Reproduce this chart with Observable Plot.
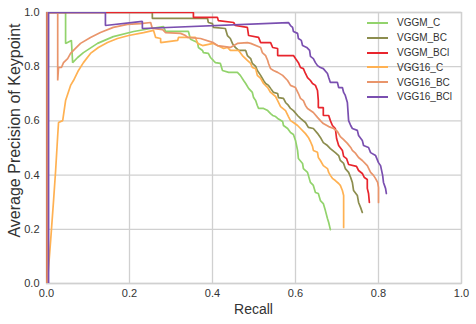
<!DOCTYPE html>
<html>
<head>
<meta charset="utf-8">
<script src="https://cdn.jsdelivr.net/npm/d3@7"></script>
<script src="https://cdn.jsdelivr.net/npm/@observablehq/plot@0.6"></script>
<style>
  html, body { margin: 0; padding: 0; background: #fff; }
  #wrap { position: relative; width: 476px; height: 324px; font-family: "Liberation Sans", Arial, sans-serif; color: #333; }
  #wrap svg { position: absolute; left: 0; top: 0; }
  .xlabel { position: absolute; left: 46px; width: 415px; top: 301px; text-align: center; font-size: 14px; line-height: 16px; }
  .ylabel { position: absolute; width: 300px; height: 17px; left: -136px; top: 121.5px; text-align: center; font-size: 16px; line-height: 17px; transform: rotate(-90deg); transform-origin: 150px 8.5px; white-space: nowrap; }
  .legend { position: absolute; left: 367px; top: 15.6px; font-size: 10px; }
  .legend .row { display: flex; align-items: center; height: 14.8px; }
  .legend .sw { width: 21px; height: 2px; margin-right: 9px; }
</style>
</head>
<body>
<div id="wrap"></div>
<script>
// ---- data ----
const seriesNames = ["VGGM_C", "VGGM_BC", "VGGM_BCl", "VGG16_C", "VGG16_BC", "VGG16_BCl"];
const seriesColors = ["#92d36c", "#8c8d4e", "#e8252d", "#ffb152", "#e9956b", "#7a4fb0"];
const xTicks = [0, 0.2, 0.4, 0.6, 0.8, 1.0];
const yTicks = [0, 0.2, 0.4, 0.6, 0.8, 1.0];

const vggmC_recall = [0.002,0.002,0.046,0.046,0.060,0.063,0.075,0.089,0.123,0.161,0.210,0.251,0.282,0.287,0.342,0.347,0.364,0.366,0.376,0.378,0.390,0.395,0.402,0.407,0.419,0.424,0.439,0.460,0.467,0.475,0.480,0.487,0.496,0.499,0.504,0.508,0.511,0.523,0.533,0.540,0.545,0.552,0.557,0.569,0.571,0.581,0.588,0.595,0.600,0.605,0.607,0.617,0.619,0.629,0.631,0.636,0.643,0.648,0.655,0.660,0.667,0.672,0.677,0.680,0.684];
const vggmC_precision = [0,1,1,0.886,0.897,0.815,0.834,0.852,0.886,0.911,0.930,0.941,0.948,0.930,0.930,0.901,0.889,0.871,0.860,0.852,0.849,0.834,0.823,0.815,0.812,0.786,0.779,0.779,0.768,0.749,0.738,0.720,0.705,0.686,0.675,0.657,0.646,0.646,0.638,0.627,0.620,0.616,0.609,0.598,0.583,0.572,0.557,0.550,0.528,0.491,0.461,0.443,0.424,0.410,0.399,0.373,0.362,0.336,0.332,0.306,0.295,0.269,0.240,0.225,0.199];

const vggmBC_recall = [0.002,0.002,0.255,0.255,0.388,0.390,0.400,0.402,0.431,0.436,0.443,0.448,0.455,0.463,0.480,0.484,0.492,0.496,0.504,0.508,0.516,0.523,0.528,0.535,0.540,0.547,0.557,0.559,0.571,0.576,0.583,0.588,0.595,0.605,0.612,0.624,0.631,0.643,0.653,0.660,0.667,0.677,0.684,0.696,0.704,0.708,0.716,0.720,0.728,0.733,0.737,0.740,0.749,0.752,0.757,0.761];
const vggmBC_precision = [0,1,1,0.978,0.978,0.963,0.959,0.945,0.941,0.915,0.904,0.886,0.871,0.860,0.860,0.841,0.830,0.812,0.801,0.786,0.768,0.749,0.738,0.731,0.720,0.705,0.701,0.686,0.683,0.668,0.657,0.646,0.638,0.620,0.609,0.594,0.576,0.572,0.554,0.539,0.520,0.509,0.498,0.483,0.472,0.454,0.443,0.424,0.410,0.391,0.373,0.343,0.325,0.299,0.280,0.262];

const vggmBCl_recall = [0.002,0.002,0.354,0.354,0.412,0.414,0.451,0.455,0.484,0.487,0.511,0.516,0.540,0.545,0.557,0.557,0.595,0.600,0.607,0.612,0.619,0.624,0.629,0.636,0.641,0.648,0.653,0.655,0.655,0.667,0.667,0.680,0.684,0.689,0.696,0.699,0.704,0.713,0.716,0.723,0.728,0.747,0.752,0.761,0.766,0.773,0.773,0.776,0.778];
const vggmBCl_precision = [0,1,1,0.982,0.982,0.970,0.963,0.952,0.945,0.915,0.908,0.889,0.889,0.871,0.867,0.841,0.841,0.830,0.815,0.797,0.793,0.775,0.760,0.749,0.738,0.731,0.712,0.675,0.649,0.649,0.620,0.620,0.601,0.583,0.572,0.535,0.509,0.491,0.469,0.461,0.439,0.432,0.417,0.406,0.391,0.384,0.351,0.332,0.299];

const vgg16C_recall = [0.002,0.010,0.017,0.022,0.027,0.029,0.039,0.046,0.058,0.065,0.077,0.089,0.106,0.125,0.147,0.171,0.198,0.234,0.258,0.263,0.275,0.275,0.316,0.318,0.359,0.364,0.376,0.402,0.427,0.436,0.443,0.463,0.472,0.484,0.492,0.496,0.504,0.508,0.516,0.523,0.533,0.540,0.552,0.557,0.564,0.576,0.583,0.588,0.595,0.605,0.612,0.624,0.631,0.636,0.641,0.643,0.653,0.655,0.660,0.667,0.677,0.680,0.684,0.689,0.696,0.704,0.708,0.713,0.716,0.716];
const vgg16C_precision = [0,0.159,0.306,0.417,0.546,0.594,0.601,0.675,0.731,0.749,0.786,0.815,0.849,0.871,0.889,0.904,0.915,0.926,0.934,0.908,0.904,0.889,0.897,0.908,0.908,0.886,0.878,0.886,0.867,0.871,0.860,0.860,0.841,0.823,0.812,0.797,0.793,0.768,0.757,0.738,0.723,0.705,0.690,0.675,0.653,0.638,0.616,0.601,0.594,0.583,0.572,0.553,0.539,0.524,0.506,0.491,0.484,0.465,0.454,0.435,0.424,0.410,0.399,0.388,0.380,0.369,0.362,0.343,0.325,0.207];

const vgg16BC_recall = [0.002,0.002,0.027,0.027,0.029,0.036,0.041,0.051,0.058,0.065,0.082,0.106,0.130,0.161,0.195,0.227,0.251,0.255,0.280,0.287,0.323,0.335,0.340,0.371,0.402,0.412,0.443,0.460,0.484,0.492,0.516,0.520,0.528,0.533,0.535,0.540,0.547,0.557,0.569,0.581,0.588,0.600,0.607,0.612,0.619,0.624,0.629,0.643,0.653,0.660,0.667,0.680,0.692,0.701,0.708,0.716,0.725,0.733,0.737,0.745,0.752,0.761,0.773,0.781,0.788,0.793,0.798,0.800,0.800];
const vgg16BC_precision = [0,1,1,0.749,0.797,0.797,0.815,0.830,0.849,0.860,0.886,0.908,0.926,0.945,0.956,0.959,0.963,0.941,0.937,0.926,0.923,0.915,0.908,0.904,0.889,0.878,0.871,0.886,0.889,0.886,0.871,0.852,0.841,0.823,0.812,0.793,0.786,0.779,0.768,0.749,0.731,0.723,0.701,0.683,0.675,0.657,0.646,0.631,0.613,0.601,0.590,0.579,0.572,0.561,0.542,0.531,0.517,0.502,0.491,0.480,0.465,0.454,0.435,0.410,0.399,0.387,0.373,0.354,0.299];

const vgg16BCl_recall = [0.005,0.005,0.142,0.142,0.231,0.231,0.583,0.588,0.593,0.595,0.605,0.607,0.614,0.617,0.627,0.634,0.636,0.643,0.648,0.653,0.660,0.667,0.677,0.680,0.684,0.701,0.704,0.713,0.716,0.720,0.725,0.728,0.733,0.737,0.749,0.752,0.761,0.764,0.776,0.781,0.793,0.800,0.805,0.810,0.812,0.817,0.819];
const vgg16BCl_precision = [0,1,1,0.952,0.967,0.941,0.963,0.952,0.945,0.930,0.923,0.904,0.897,0.878,0.871,0.860,0.838,0.830,0.815,0.804,0.797,0.793,0.775,0.760,0.742,0.742,0.723,0.723,0.705,0.694,0.668,0.601,0.583,0.572,0.565,0.546,0.528,0.509,0.502,0.483,0.472,0.446,0.435,0.399,0.373,0.351,0.332];

const recalls = [vggmC_recall, vggmBC_recall, vggmBCl_recall, vgg16C_recall, vgg16BC_recall, vgg16BCl_recall];
const precisions = [vggmC_precision, vggmBC_precision, vggmBCl_precision, vgg16C_precision, vgg16BC_precision, vgg16BCl_precision];

const lineMarks = seriesNames.map((name, i) => {
  const rows = recalls[i].map((r, j) => ({recall: r, precision: precisions[i][j], series: name}));
  return Plot.line(rows, {x: "recall", y: "precision", stroke: seriesColors[i], strokeWidth: 1.7, strokeLinejoin: "miter", clip: true});
});

const chart = Plot.plot({
  width: 476,
  height: 324,
  marginLeft: 46,
  marginRight: 15,
  marginTop: 12,
  marginBottom: 41,
  style: {fontFamily: "'Liberation Sans', Arial, sans-serif", fontSize: "11px", color: "#333", background: "transparent"},
  x: {domain: [0, 1], label: null},
  y: {domain: [0, 1], label: null},
  marks: [
    Plot.gridX(xTicks, {stroke: "#d0d0d0", strokeOpacity: 1, strokeWidth: 1.3}),
    Plot.gridY(yTicks, {stroke: "#d0d0d0", strokeOpacity: 1, strokeWidth: 1.3}),
    Plot.frame({stroke: "#d0d0d0", strokeWidth: 1.3}),
    Plot.axisX(xTicks, {tickSize: 0, tickPadding: 6, tickFormat: d3.format(".1f"), label: null}),
    Plot.axisY(yTicks, {tickSize: 0, tickPadding: 7, tickFormat: d3.format(".1f"), label: null}),
    ...lineMarks
  ]
});

const wrap = document.getElementById("wrap");
wrap.appendChild(chart);

const xl = document.createElement("div");
xl.className = "xlabel";
xl.textContent = "Recall";
wrap.appendChild(xl);

const yl = document.createElement("div");
yl.className = "ylabel";
yl.textContent = "Average Precision of Keypoint";
wrap.appendChild(yl);

const leg = document.createElement("div");
leg.className = "legend";
seriesNames.forEach((name, i) => {
  const row = document.createElement("div");
  row.className = "row";
  const sw = document.createElement("div");
  sw.className = "sw";
  sw.style.background = seriesColors[i];
  const t = document.createElement("span");
  t.textContent = name;
  row.appendChild(sw);
  row.appendChild(t);
  leg.appendChild(row);
});
wrap.appendChild(leg);
</script>
</body>
</html>
